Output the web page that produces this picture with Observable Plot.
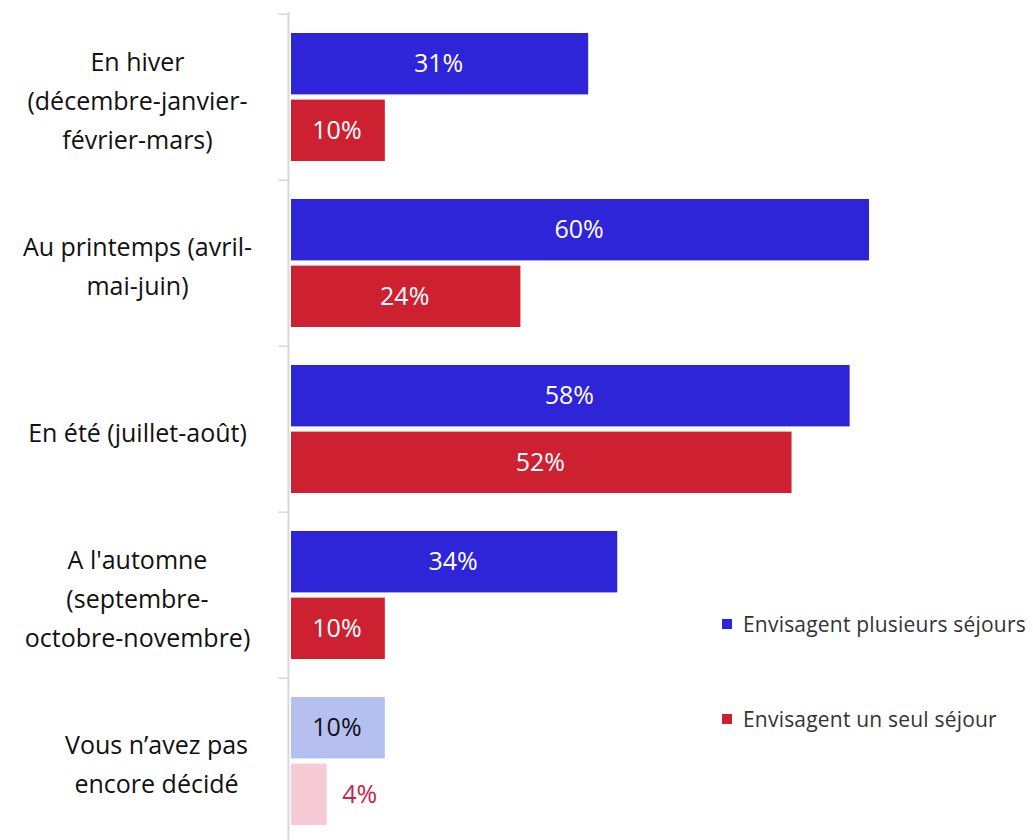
<!DOCTYPE html>
<html>
<head>
<meta charset="utf-8">
<script src="https://cdn.jsdelivr.net/npm/d3@7"></script>
<script src="https://cdn.jsdelivr.net/npm/@observablehq/plot@0.6"></script>
<style>
  html, body { margin: 0; padding: 0; background: #fff; }
  #wrap { position: relative; width: 1033px; height: 840px; font-family: "Open Sans", Lato, sans-serif; }
  #legend { position: absolute; left: 722px; top: 0; color: #333; font-size: 21px; letter-spacing: 0.2px; }
  .item { position: absolute; left: 0; white-space: nowrap; display: flex; align-items: center; }
  .sw { width: 10px; height: 10px; margin-right: 11px; display: inline-block; }
</style>
</head>
<body>
<div id="wrap">
  <div id="chart"></div>
  <div id="legend"></div>
</div>
<script>
const categories = [
  "En hiver\n(décembre-janvier-\nfévrier-mars)",
  "Au printemps (avril-\nmai-juin)",
  "En été (juillet-août)",
  "A l'automne\n(septembre-\noctobre-novembre)",
  "Vous n’avez pas\nencore décidé"
];
const seriesNames = ["Envisagent plusieurs séjours", "Envisagent un seul séjour"];
const plusieurs = [31, 60, 58, 34, 10];
const unSeul = [10, 24, 52, 10, 4];

const BLUE = "#2e24d8", RED = "#cd2131";
const BLUE_L = "#b5c0f0", RED_L = "#f6cbd5";
const undecided = categories[4];

const dataB = categories.map((c, i) => ({cat: c, v: plusieurs[i]}));
const dataR = categories.map((c, i) => ({cat: c, v: unSeul[i]}));

const bandH = (845 - 12) / categories.length;
const FONT = "'Open Sans', Lato, sans-serif";
const VFS = 25;

const chart = Plot.plot({
  width: 1033,
  height: 840,
  marginTop: 12,
  marginBottom: 0,
  marginLeft: 288,
  marginRight: 0,
  style: {fontFamily: FONT, background: "#fff"},
  x: {domain: [0, 60], range: [288, 869], axis: null},
  y: {domain: categories, range: [12, 845], padding: 0, axis: null},
  marks: [
    Plot.barX(dataB, {y: "cat", x: "v", fill: d => d.cat === undecided ? BLUE_L : BLUE,
      insetTop: 19, insetBottom: bandH - 19 - 62, insetLeft: 3}),
    Plot.barX(dataR, {y: "cat", x: "v", fill: d => d.cat === undecided ? RED_L : RED,
      insetTop: bandH - 19 - 62, insetBottom: 19, insetLeft: 3}),
    Plot.text(dataB, {y: "cat", x: d => d.v / 2, text: d => d.v + "%", dy: -(bandH / 2 - 19 - 31),
      fill: d => d.cat === undecided ? "#111" : "#fff", fontSize: VFS}),
    Plot.text(dataR.filter(d => d.cat !== undecided), {y: "cat", x: d => d.v / 2, text: d => d.v + "%", dy: (bandH / 2 - 19 - 31),
      fill: "#fff", fontSize: VFS}),
    Plot.text(dataR.filter(d => d.cat === undecided), {y: "cat", x: "v", text: d => d.v + "%", dy: (bandH / 2 - 19 - 31),
      dx: 15, textAnchor: "start", fill: "#c8234d", fontSize: VFS}),
    Plot.ruleX([0], {stroke: "#d9d9d9", strokeWidth: 2}),
    Plot.ruleY(categories, {y: d => d, dy: -bandH / 2, x1: -1, x2: 0, stroke: "#d9d9d9", strokeWidth: 1.5}),
    Plot.text(categories.filter(c => c !== undecided), {y: d => d, frameAnchor: "left", dx: -151, text: d => d, textAnchor: "middle",
      fontSize: 25, lineHeight: 1.56, fill: "#111"}),
    Plot.text([undecided], {y: d => d, frameAnchor: "left", dx: -132, text: d => d, textAnchor: "middle",
      fontSize: 25, lineHeight: 1.56, fill: "#111"})
  ]
});
document.getElementById("chart").appendChild(chart);

const legend = document.getElementById("legend");
const legendTops = [610, 705];
[BLUE, RED].forEach((col, i) => {
  const it = document.createElement("div");
  it.className = "item";
  it.style.top = legendTops[i] + "px";
  it.innerHTML = `<span class="sw" style="background:${col}"></span><span>${seriesNames[i]}</span>`;
  legend.appendChild(it);
});
</script>
</body>
</html>
